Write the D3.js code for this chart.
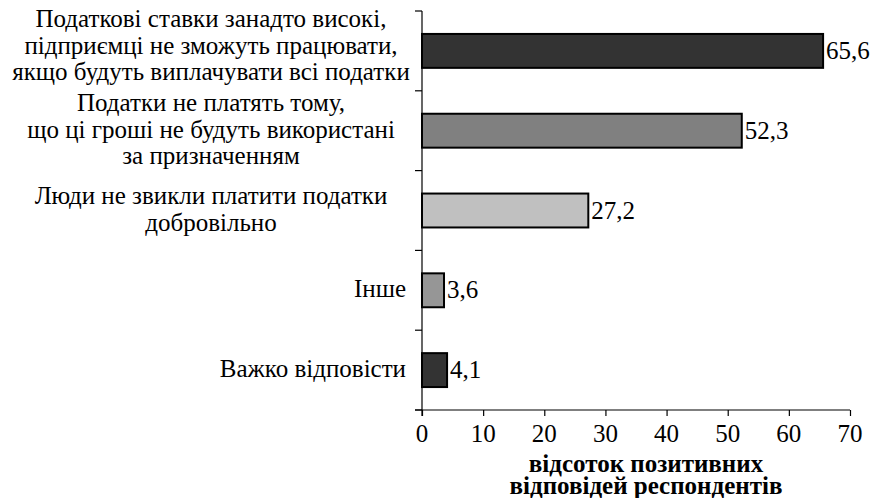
<!DOCTYPE html>
<html>
<head>
<meta charset="utf-8">
<script src="https://cdn.jsdelivr.net/npm/d3@7"></script>
</head>
<body style="margin:0">
<svg id="chart" width="874" height="498"></svg>
<script>
const categories = [
  ["Податкові ставки занадто високі,", "підприємці не зможуть працювати,", "якщо будуть виплачувати всі податки"],
  ["Податки не платять тому,", "що ці гроші не будуть використані", "за призначенням"],
  ["Люди не звикли платити податки", "добровільно"],
  ["Інше"],
  ["Важко відповісти"]
];
const values = [65.6, 52.3, 27.2, 3.6, 4.1];
const valueLabels = ["65,6", "52,3", "27,2", "3,6", "4,1"];
const barColors = ["#333333", "#808080", "#c0c0c0", "#969696", "#333333"];
const xTicks = [0, 10, 20, 30, 40, 50, 60, 70];
const axisTitle = ["відсоток позитивних", "відповідей респондентів"];

const fs = 25;
const svg = d3.select("#chart");
const margin = { left: 422, right: 24, top: 11, bottom: 88 };
const W = 874, H = 498;
const x = d3.scaleLinear().domain([0, 70]).range([margin.left, W - margin.right]);
const idx = d3.range(categories.length);
const y = d3.scaleBand().domain(idx).range([margin.top, H - margin.bottom]).paddingInner(0.575).paddingOuter(0.2875);
const yb = d3.scaleBand().domain(idx).range([margin.top, H - margin.bottom]);

function addText(px, py, str, anchor, size, bold) {
  const t = svg.append("text")
    .attr("x", px)
    .attr("y", py)
    .style("font-family", bold ? "Liberation Serif" : "Times New Roman")
    .attr("font-size", size || fs)
    .text(str);
  if (anchor && anchor !== "start") t.attr("text-anchor", anchor);
  if (bold) t.style("font-weight", "bold");
  return t;
}

// bars
svg.selectAll("rect.bar").data(values).join("rect")
  .attr("class", "bar")
  .attr("x", x(0))
  .attr("y", (d, i) => y(i))
  .attr("width", d => x(d) - x(0))
  .attr("height", y.bandwidth())
  .attr("fill", (d, i) => barColors[i])
  .attr("stroke", "#000")
  .attr("stroke-width", 2);

// value labels
values.forEach((d, i) => addText(x(d) + 3, y(i) + y.bandwidth() / 2 + 8, valueLabels[i]));

// y axis
const yAxisG = svg.append("g").attr("transform", `translate(${x(0)},0)`);
yAxisG.append("line").attr("x1", 0).attr("x2", 0).attr("y1", yb.range()[0]).attr("y2", yb.range()[1] + 6)
  .attr("stroke", "#000").attr("stroke-width", 1.2);
const bounds = idx.map(i => yb(i)).concat([yb.range()[1]]);
yAxisG.selectAll("line.t").data(bounds).join("line").attr("class", "t")
  .attr("x1", -7).attr("x2", 0).attr("y1", d => d).attr("y2", d => d)
  .attr("stroke", "#000").attr("stroke-width", 1.2);

// x axis (lines from d3 axis, labels as plain texts)
const xAxis = d3.axisBottom(x).tickValues(xTicks).tickSize(6).tickSizeOuter(0).tickFormat("");
const xg = svg.append("g").attr("transform", `translate(0,${yb.range()[1]})`).call(xAxis);
xg.selectAll("text").remove();
xg.attr("font-family", null).attr("font-size", null);
xg.select(".domain").attr("d", `M${x(0) - 7},0H${x(70)}`).attr("stroke-width", 1.2);
xg.selectAll(".tick line").attr("stroke-width", 1.2);
xTicks.forEach(v => addText(x(v), yb.range()[1] + 32, String(v), "middle"));

// category labels
const lh = 26.5;
const labelCenter = 211;
categories.forEach((lines, i) => {
  const cy = (i === 0 ? yb(i) + yb.bandwidth() / 2 - 4 : yb(i) + yb.bandwidth() / 2);
  const n = lines.length;
  const multi = n > 1;
  lines.forEach((l, j) => {
    addText(multi ? labelCenter : x(0) - 16, cy - (n - 1) * lh / 2 + j * lh + 7, l, multi ? "middle" : "end");
  });
});

// axis title
axisTitle.forEach((l, j) => addText(646, 472 + j * 22, l, "middle", 25, true));
</script>
</body>
</html>
